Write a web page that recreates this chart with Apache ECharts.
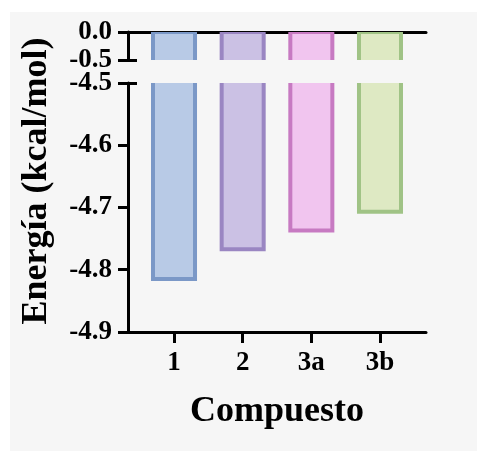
<!DOCTYPE html>
<html>
<head>
<meta charset="utf-8">
<script src="https://cdn.jsdelivr.net/npm/echarts@6/dist/echarts.min.js"></script>
<style>
  html, body { margin: 0; padding: 0; background: #ffffff; }
  #panel { position: absolute; left: 10px; top: 12px; right: 0; bottom: 0; background: #f6f6f6; }
  #chart { position: absolute; left: 0; top: 0; width: 477px; height: 451px; }
</style>
</head>
<body>
<div id="panel"></div>
<div id="chart"></div>
<script>
// Compounds and their energies (kcal/mol)
const categories = ['1', '2', '3a', '3b'];
const energies = [-4.815, -4.767, -4.737, -4.707];

// Bar fill and outline colours, one per compound
const fillColors = ['#b8cae6', '#cbc1e4', '#f1c5ef', '#dee9c3'];
const edgeColors = ['#7b98c7', '#9a86c2', '#c77ac2', '#a0c386'];

// Y-axis segments of the broken axis
const upperTicks = [-0.5, 0.0];
const lowerTicks = [-4.9, -4.8, -4.7, -4.6, -4.5];

const FONT = "'Liberation Serif', 'Times New Roman', serif";
const INK = '#000000';

const points = energies.map((v, i) => [i + 1, v]);

function renderBar(params, api) {
  const x = api.value(0);
  const v = api.value(1);
  const base = api.coord([x, 0]);
  const end = api.coord([x, v]);
  const w = api.size([1, 0])[0] * 0.612;
  const i = params.dataIndex;
  return {
    type: 'rect',
    shape: { x: base[0] - w / 2, y: base[1], width: w, height: end[1] - base[1] },
    style: { fill: fillColors[i], stroke: edgeColors[i], lineWidth: 4 }
  };
}

const xBase = { type: 'value', min: 0.33, max: 4.67, splitLine: { show: false } };
const labelFont = { color: INK, fontFamily: FONT, fontWeight: 'bold', fontSize: 27 };

const chart = echarts.init(document.getElementById('chart'), null, { renderer: 'canvas' });
chart.setOption({
  animation: false,
  backgroundColor: 'transparent',
  grid: [
    { left: 128, right: 51, top: 32, height: 28 },
    { left: 128, right: 51, top: 83, height: 249 }
  ],
  xAxis: [
    Object.assign({}, xBase, {
      gridIndex: 0, position: 'top',
      axisLine: { show: true, onZero: false, lineStyle: { color: INK, width: 3 } },
      axisTick: { show: false }, axisLabel: { show: false }
    }),
    Object.assign({}, xBase, {
      gridIndex: 1, position: 'bottom',
      axisLine: { show: true, onZero: false, lineStyle: { color: INK, width: 3 } },
      axisTick: { show: true, length: 11, customValues: [1, 2, 3, 4], lineStyle: { color: INK, width: 3 } },
      axisLabel: Object.assign({
        show: true, customValues: [1, 2, 3, 4], margin: 18,
        formatter: v => categories[Math.round(v) - 1] || ''
      }, labelFont),
      name: 'Compuesto', nameLocation: 'middle', nameGap: 62,
      nameTextStyle: { color: INK, fontFamily: FONT, fontWeight: 'bold', fontSize: 36 }
    })
  ],
  yAxis: [
    {
      type: 'value', gridIndex: 0, position: 'left', min: -0.5, max: 0, interval: 0.5,
      splitLine: { show: false },
      axisLine: { show: true, onZero: false, lineStyle: { color: INK, width: 3 } },
      axisTick: { show: true, length: 10, customValues: upperTicks, lineStyle: { color: INK, width: 3 } },
      axisLabel: Object.assign({ customValues: upperTicks, margin: 16, formatter: v => v.toFixed(1) }, labelFont)
    },
    {
      // inner half of the break cap at -0.5
      type: 'value', gridIndex: 0, position: 'left', offset: 0, min: -0.5, max: 0,
      splitLine: { show: false }, axisLine: { show: false }, axisLabel: { show: false },
      axisTick: { show: true, inside: true, length: 9, customValues: [-0.5], lineStyle: { color: INK, width: 3 } }
    },
    {
      type: 'value', gridIndex: 1, position: 'left', min: -4.9, max: -4.5, interval: 0.1,
      splitLine: { show: false },
      axisLine: { show: true, onZero: false, lineStyle: { color: INK, width: 3 } },
      axisTick: { show: true, length: 10, customValues: lowerTicks, lineStyle: { color: INK, width: 3 } },
      axisLabel: Object.assign({ customValues: lowerTicks, margin: 16, formatter: v => v.toFixed(1) }, labelFont)
    },
    {
      // inner half of the break cap at -4.5
      type: 'value', gridIndex: 1, position: 'left', offset: 0, min: -4.9, max: -4.5,
      splitLine: { show: false }, axisLine: { show: false }, axisLabel: { show: false },
      axisTick: { show: true, inside: true, length: 9, customValues: [-4.5], lineStyle: { color: INK, width: 3 } }
    }
  ],
  graphic: [{
    type: 'text',
    x: 37, y: 181, rotation: Math.PI / 2,
    style: {
      text: 'Energía (kcal/mol)', fill: INK,
      font: "bold 36px 'Liberation Serif', 'Times New Roman', serif",
      align: 'center', verticalAlign: 'middle'
    },
    z: 10
  }],
  series: [
    { type: 'custom', xAxisIndex: 0, yAxisIndex: 0, clip: true, data: points, renderItem: renderBar, z: 1 },
    { type: 'custom', xAxisIndex: 1, yAxisIndex: 2, clip: true, data: points, renderItem: renderBar, z: 1 }
  ]
});
</script>
</body>
</html>
